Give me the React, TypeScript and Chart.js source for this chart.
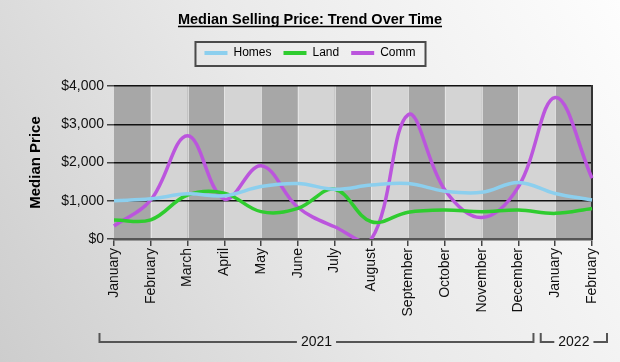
import React, { useEffect, useRef } from "react";
import { Chart, registerables } from "chart.js";

Chart.register(...registerables);

const months = [
  "January", "February", "March", "April", "May", "June", "July", "August",
  "September", "October", "November", "December", "January", "February",
];
const years = ["2021", "2022"];
const yearSpans = [12, 2];
const homes = [1000, 1050, 1180, 1130, 1370, 1450, 1300, 1410, 1450, 1250, 1220, 1480, 1190, 1020];
const land = [500, 500, 1150, 1200, 715, 800, 1300, 450, 700, 760, 715, 760, 670, 800];
const comm = [340, 1020, 2700, 1045, 1915, 830, 320, 0, 3250, 1280, 560, 1370, 3700, 1590];
const yMin = 0;
const yMax = 4000;
const yStep = 1000;

const FONT = "'Liberation Sans', Arial, Helvetica, sans-serif";
const TITLE = "Median Selling Price: Trend Over Time";

const decor = {
  id: "decor",
  beforeLayout(chart: any) {
    const lg = chart.legend;
    if (lg && !lg.__patched) {
      const orig = lg.fit.bind(lg);
      lg.fit = function () {
        orig();
        this.height += 17;
      };
      lg.__patched = true;
    }
  },
  beforeDraw(chart: any) {
    const { ctx, width, height, chartArea, scales } = chart;
    ctx.save();
    const g = ctx.createLinearGradient(0, height, width, 0);
    g.addColorStop(0, "#cdcdcd");
    g.addColorStop(0.5, "#e9e9e9");
    g.addColorStop(1, "#fdfdfd");
    ctx.fillStyle = g;
    ctx.fillRect(0, 0, width, height);
    const x = scales.x;
    for (let i = 0; i < months.length - 1; i++) {
      const a = x.getPixelForValue(i);
      const b = x.getPixelForValue(i + 1);
      ctx.fillStyle = i % 2 === 0 ? "#a7a7a7" : "#d4d4d4";
      ctx.fillRect(a, chartArea.top, b - a, chartArea.bottom - chartArea.top);
    }
    ctx.strokeStyle = "rgba(235,235,235,0.7)";
    ctx.lineWidth = 1;
    for (let i = 1; i < months.length - 1; i++) {
      const a = Math.round(x.getPixelForValue(i)) + 0.5;
      ctx.beginPath();
      ctx.moveTo(a, chartArea.top);
      ctx.lineTo(a, chartArea.bottom);
      ctx.stroke();
    }
    ctx.restore();
  },
  afterDraw(chart: any) {
    const { ctx, scales } = chart;
    ctx.save();
    // title underline
    const tb = chart.titleBlock;
    if (tb) {
      ctx.font = `bold 14.5px ${FONT}`;
      const w = ctx.measureText(TITLE).width;
      const cx = (tb.left + tb.right) / 2;
      const cy = tb.top + 11 + 8.7;
      ctx.strokeStyle = "#000";
      ctx.lineWidth = 1.5;
      ctx.beginPath();
      ctx.moveTo(cx - w / 2, cy + 6.8);
      ctx.lineTo(cx + w / 2, cy + 6.8);
      ctx.stroke();
    }
    // legend box
    const lg = chart.legend;
    if (lg && lg.legendHitBoxes && lg.legendHitBoxes.length) {
      const hb = lg.legendHitBoxes;
      const first = hb[0];
      const last = hb[hb.length - 1];
      const x0 = first.left - 9;
      const x1 = last.left + last.width + 10;
      const y0 = first.top - 5;
      const y1 = first.top + first.height + 7;
      ctx.strokeStyle = "#4a4a4a";
      ctx.lineWidth = 2;
      ctx.strokeRect(x0, y0, x1 - x0, y1 - y0);
    }
    // year brackets
    const x = scales.x;
    const by = 342;
    ctx.strokeStyle = "#555";
    ctx.lineWidth = 2;
    ctx.font = `14px ${FONT}`;
    ctx.fillStyle = "#111";
    ctx.textAlign = "center";
    ctx.textBaseline = "middle";
    let start = 0;
    years.forEach((yr, k) => {
      const end = start + yearSpans[k] - 1;
      const xa = x.getPixelForValue(start) - 14.5;
      const xb = x.getPixelForValue(end) + 15;
      const cx = (xa + xb) / 2;
      const tw = ctx.measureText(yr).width;
      ctx.beginPath();
      ctx.moveTo(xa, by - 9);
      ctx.lineTo(xa, by);
      ctx.lineTo(cx - tw / 2 - 4, by);
      ctx.moveTo(cx + tw / 2 + 4, by);
      ctx.lineTo(xb, by);
      ctx.lineTo(xb, by - 9);
      ctx.stroke();
      ctx.fillText(yr, cx, by);
      start = end + 1;
    });
    ctx.restore();
  },
};

export default function App() {
  const ref = useRef<HTMLCanvasElement | null>(null);
  useEffect(() => {
    if (!ref.current) return;
    Chart.defaults.font.family = FONT;
    const mk = (label: string, data: number[], color: string) => ({
      label,
      data,
      borderColor: color,
      backgroundColor: color,
      borderWidth: 3.5,
      pointRadius: 0,
      tension: 0.38,
      capBezierPoints: false,
      fill: false,
    });
    const chart = new Chart(ref.current, {
      type: "line",
      data: {
        labels: months,
        datasets: [
          mk("Homes", homes, "#8ccfee"),
          mk("Land", land, "#2fcc2f"),
          mk("Comm", comm, "#bb55dd"),
        ],
      },
      options: {
        responsive: false,
        animation: false,
        events: [],
        layout: { padding: 0 },
        elements: { line: { capBezierPoints: false } },
        plugins: {
          title: {
            display: true,
            text: TITLE,
            color: "#000",
            font: { size: 14.5, weight: "bold", family: FONT },
            padding: { top: 11, bottom: 6.6 },
          },
          legend: {
            display: true,
            position: "top",
            labels: {
              boxWidth: 23,
              boxHeight: 4,
              padding: 12,
              color: "#111",
              font: { size: 12, family: FONT },
              generateLabels(c: any) {
                return c.data.datasets.map((d: any, i: number) => ({
                  text: d.label,
                  fillStyle: d.borderColor,
                  strokeStyle: d.borderColor,
                  lineWidth: 0,
                  hidden: false,
                  datasetIndex: i,
                }));
              },
            },
          },
          tooltip: { enabled: false },
        },
        scales: {
          x: {
            type: "category",
            offset: false,
            grid: {
              drawOnChartArea: false,
              drawTicks: true,
              tickLength: 7,
              tickColor: "#444",
              lineWidth: 1.5,
            },
            border: { display: true, color: "#555", width: 2.5 },
            ticks: {
              autoSkip: false,
              maxRotation: 90,
              minRotation: 90,
              padding: 2,
              color: "#111",
              font: { size: 14, family: FONT },
            },
            afterFit(s: any) {
              s.height = 123;
            },
          },
          y: {
            min: yMin,
            max: yMax,
            ticks: {
              stepSize: yStep,
              padding: 3,
              color: "#111",
              font: { size: 14, family: FONT },
              callback: (v: any) => "$" + Number(v).toLocaleString("en-US"),
            },
            grid: {
              color: (c: any) => (c.tick && c.tick.value === 0 ? "rgba(0,0,0,0)" : "#111"),
              tickColor: "#444",
              lineWidth: 1.5,
              tickLength: 7,
            },
            border: { display: false },
            title: {
              display: true,
              text: "Median Price",
              color: "#000",
              font: { size: 15, weight: "bold", family: FONT },
              padding: { top: 27, bottom: 0 },
            },
            afterFit(s: any) {
              s.width = 114;
            },
          },
          y2: {
            axis: "y",
            position: "right",
            min: yMin,
            max: yMax,
            display: true,
            grid: { display: false, drawTicks: false },
            ticks: { display: false },
            border: { display: true, color: "#333", width: 2 },
            afterFit(s: any) {
              s.width = 28;
            },
          },
        },
      },
      plugins: [decor],
    } as any);
    return () => chart.destroy();
  }, []);
  return (
    <div style={{ position: "absolute", left: 0, top: 0, width: 620, height: 362 }}>
      <canvas ref={ref} width={620} height={362} style={{ width: 620, height: 362 }} />
    </div>
  );
}
